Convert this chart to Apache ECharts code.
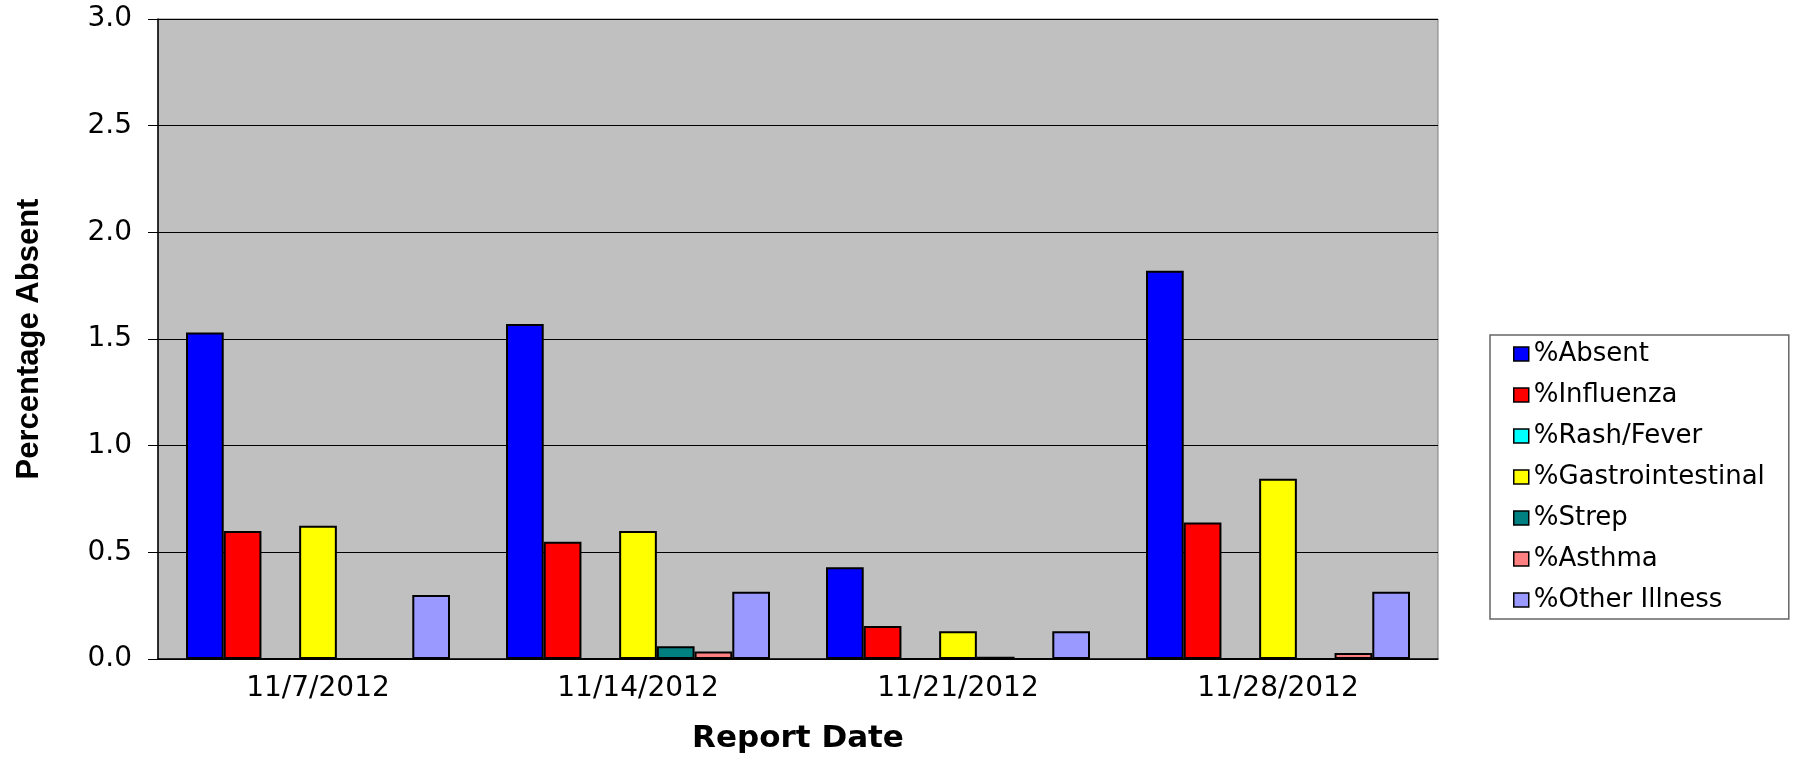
<!DOCTYPE html>
<html>
<head>
<meta charset="utf-8">
<title>Percentage Absent by Report Date</title>
<script src="https://cdn.jsdelivr.net/npm/echarts@6/dist/echarts.min.js"></script>
<style>
html, body {
    margin: 0;
    padding: 0;
    background: #fff;
}

#chart {
    width: 1804px;
    height: 762px;
}
</style>
</head>
<body>
<div id="chart"></div>
<script>
// 报告日期
var dates = ['11/7/2012', '11/14/2012', '11/21/2012', '11/28/2012'];

// 各类缺勤百分比
var absent = [1.53, 1.57, 0.43, 1.82];
var influenza = [0.60, 0.55, 0.155, 0.64];
var rashFever = [0, 0, 0, 0];
var gastro = [0.625, 0.60, 0.13, 0.845];
var strep = [0, 0.06, 0.01, 0];
var asthma = [0, 0.035, 0, 0.028];
var otherIllness = [0.30, 0.315, 0.13, 0.315];

var seriesNames = ['%Absent', '%Influenza', '%Rash/Fever', '%Gastrointestinal', '%Strep', '%Asthma', '%Other Illness'];
var seriesData = [absent, influenza, rashFever, gastro, strep, asthma, otherIllness];
var seriesColors = ['#0000FF', '#FF0000', '#00FFFF', '#FFFF00', '#008080', '#FF8080', '#9999FF'];

var chart = echarts.init(document.getElementById('chart'));

chart.setOption({
    animation: false,
    color: seriesColors,
    grid: {
        left: 158,
        right: 366,
        top: 19,
        bottom: 103,
        show: true,
        backgroundColor: '#C0C0C0',
        borderColor: '#808080',
        borderWidth: 1
    },
    //图例配置
    legend: {
        orient: 'vertical',
        left: 1490,
        top: 335,
        padding: [6, 24, 6, 23],
        itemGap: 15,
        itemWidth: 15,
        itemHeight: 14,
        icon: 'rect',
        borderColor: '#666',
        borderWidth: 1.5,
        itemStyle: {
            borderColor: '#000',
            borderWidth: 1.5
        },
        textStyle: {
            fontFamily: 'DejaVu Sans',
            fontSize: 26,
            color: '#000'
        },
        data: seriesNames
    },
    //x轴配置
    xAxis: {
        type: 'category',
        data: dates,
        name: 'Report Date',
        nameLocation: 'middle',
        nameGap: 64,
        nameTextStyle: {
            fontFamily: 'DejaVu Sans',
            fontWeight: 'bold',
            fontSize: 31,
            color: '#000'
        },
        axisLine: {
            lineStyle: { color: '#000', width: 1.5 }
        },
        axisTick: {
            length: 8,
            lineStyle: { color: '#000' }
        },
        axisLabel: {
            margin: 16,
            fontFamily: 'DejaVu Sans',
            fontSize: 28,
            color: '#000'
        }
    },
    // Y轴配置
    yAxis: {
        type: 'value',
        min: 0,
        max: 3,
        interval: 0.5,
        name: 'Percentage Absent',
        nameLocation: 'middle',
        nameGap: 113,
        nameTextStyle: {
            fontFamily: 'Liberation Sans',
            fontWeight: 'bold',
            fontSize: 31,
            color: '#000'
        },
        axisLine: {
            show: true,
            lineStyle: { color: '#000', width: 1.5 }
        },
        axisTick: {
            show: true,
            length: 10,
            lineStyle: { color: '#000' }
        },
        axisLabel: {
            margin: 26,
            fontFamily: 'DejaVu Sans',
            fontSize: 28,
            color: '#000',
            formatter: function (v) { return v.toFixed(1); }
        },
        splitLine: {
            lineStyle: { color: '#000', width: 1 }
        }
    },
    series: seriesNames.map(function (name, i) {
        return {
            name: name,
            type: 'bar',
            data: seriesData[i],
            barGap: '0%',
            barCategoryGap: '17.5%',
            itemStyle: {
                color: seriesColors[i],
                borderColor: '#000',
                borderWidth: 2
            }
        };
    })
});
</script>
</body>
</html>
